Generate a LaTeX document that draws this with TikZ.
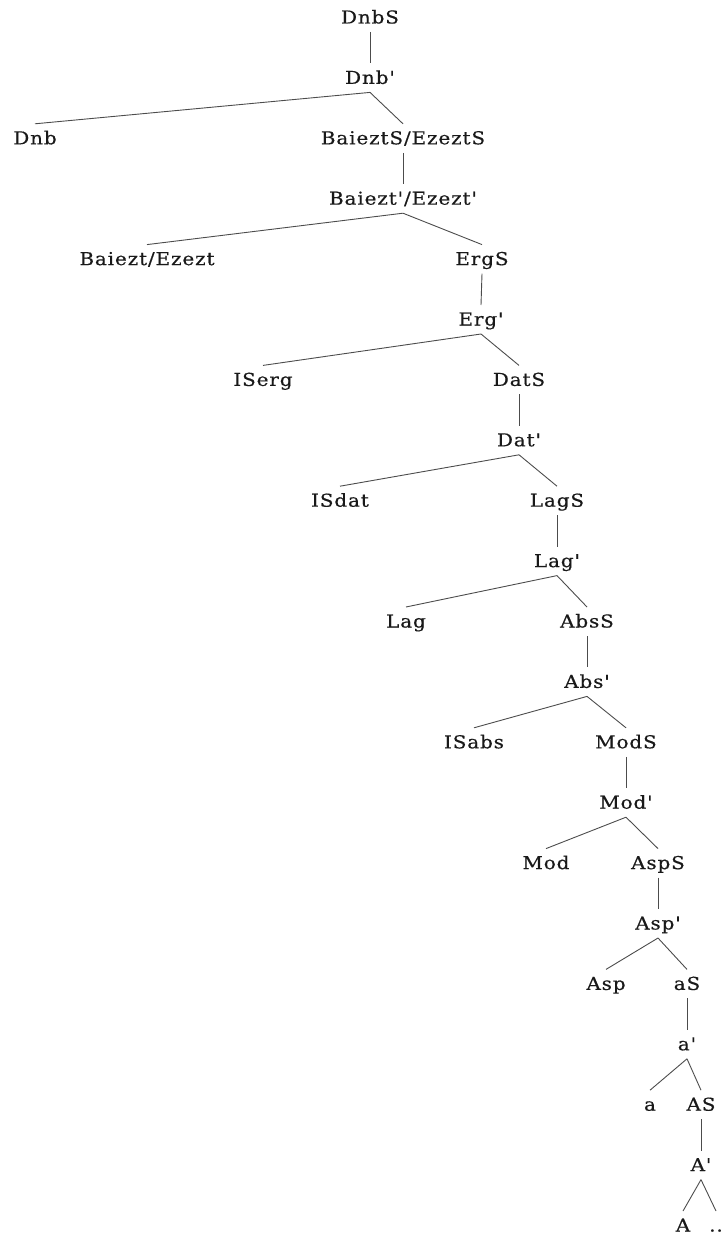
\documentclass[tikz,border=0pt]{standalone}
\usepackage{fontspec}
\setmainfont{DejaVu Serif}[Ligatures=TeXOff,FakeStretch=1.12,LetterSpace=5,FakeBold=0.5]
\usetikzlibrary{calc}
\newcommand\treeedge[2]{\draw[branch] ($(#1.base)+(0,8.5)$) -- ($(#2.base)+(0,-20.5)$);}
\begin{document}
\begin{tikzpicture}[x=1pt,y=-1pt,
  lbl/.style={anchor=base,inner sep=0pt,font=\fontsize{17.8}{20}\selectfont,text=black!90},
  branch/.style={draw=black!70,line width=0.9pt}]
\useasboundingbox (0,0) rectangle (725,1236);
\def\lv#1{#1*60.4+23.5}
\node[lbl] (n0) at (370,{\lv{0}}) {DnbS};
\node[lbl] (n1) at (370,{\lv{1}}) {Dnb'};
\node[lbl] (dnb) at (35,{\lv{2}}) {Dnb};
\node[lbl] (n2) at (403,{\lv{2}}) {BaieztS/EzeztS};
\node[lbl] (n3) at (403,{\lv{3}}) {Baiezt'/Ezezt'};
\node[lbl] (bai) at (147,{\lv{4}}) {Baiezt/Ezezt};
\node[lbl] (n4) at (482,{\lv{4}}) {ErgS};
\node[lbl] (n5) at (481,{\lv{5}}) {Erg'};
\node[lbl] (iserg) at (263,{\lv{6}}) {ISerg};
\node[lbl] (n6) at (519,{\lv{6}}) {DatS};
\node[lbl] (n7) at (519,{\lv{7}}) {Dat'};
\node[lbl] (isdat) at (340,{\lv{8}}) {ISdat};
\node[lbl] (n8) at (557,{\lv{8}}) {LagS};
\node[lbl] (n9) at (557,{\lv{9}}) {Lag'};
\node[lbl] (lag) at (406,{\lv{10}}) {Lag};
\node[lbl] (n10) at (587,{\lv{10}}) {AbsS};
\node[lbl] (n11) at (587,{\lv{11}}) {Abs'};
\node[lbl] (isabs) at (474,{\lv{12}}) {ISabs};
\node[lbl] (n12) at (626,{\lv{12}}) {ModS};
\node[lbl] (n13) at (626,{\lv{13}}) {Mod'};
\node[lbl] (mod) at (546,{\lv{14}}) {Mod};
\node[lbl] (n14) at (658,{\lv{14}}) {AspS};
\node[lbl] (n15) at (658,{\lv{15}}) {Asp'};
\node[lbl] (asp) at (606,{\lv{16}}) {Asp};
\node[lbl] (n16) at (687,{\lv{16}}) {aS};
\node[lbl] (n17) at (687,{\lv{17}}) {a'};
\node[lbl] (sa) at (650,{\lv{18}}) {a};
\node[lbl] (n18) at (701,{\lv{18}}) {AS};
\node[lbl] (n19) at (701,{\lv{19}}) {A'};
\node[lbl] (ba) at (683,{\lv{20}}) {A};
\node[lbl] (dots) at (716,{\lv{20}}) {..};
\treeedge{n0}{n1}
\treeedge{n1}{dnb}
\treeedge{n1}{n2}
\treeedge{n2}{n3}
\treeedge{n3}{bai}
\treeedge{n3}{n4}
\treeedge{n4}{n5}
\treeedge{n5}{iserg}
\treeedge{n5}{n6}
\treeedge{n6}{n7}
\treeedge{n7}{isdat}
\treeedge{n7}{n8}
\treeedge{n8}{n9}
\treeedge{n9}{lag}
\treeedge{n9}{n10}
\treeedge{n10}{n11}
\treeedge{n11}{isabs}
\treeedge{n11}{n12}
\treeedge{n12}{n13}
\treeedge{n13}{mod}
\treeedge{n13}{n14}
\treeedge{n14}{n15}
\treeedge{n15}{asp}
\treeedge{n15}{n16}
\treeedge{n16}{n17}
\treeedge{n17}{sa}
\treeedge{n17}{n18}
\treeedge{n18}{n19}
\treeedge{n19}{ba}
\treeedge{n19}{dots}
\end{tikzpicture}
\end{document}
